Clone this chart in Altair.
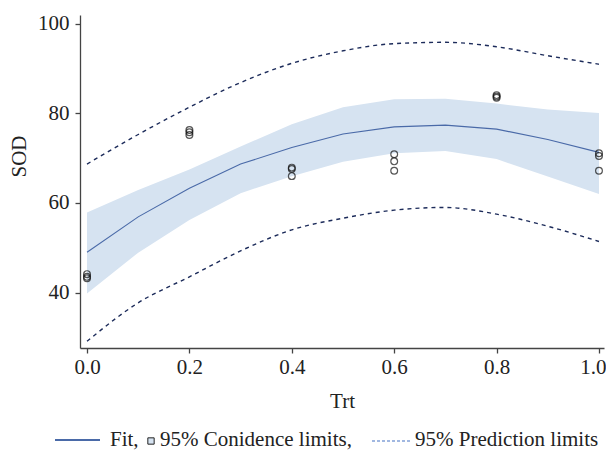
import altair as alt
import pandas as pd

# Observed data (Trt, SOD)
obs_trt = [0.0, 0.0, 0.0, 0.2, 0.2, 0.2, 0.4, 0.4, 0.4,
           0.6, 0.6, 0.6, 0.8, 0.8, 0.8, 1.0, 1.0, 1.0]
obs_sod = [44.1, 43.5, 43.2, 76.3, 75.8, 75.2, 67.9, 67.6, 66.0,
           70.9, 69.3, 67.2, 84.1, 83.8, 83.5, 71.1, 70.5, 67.2]

# Fitted curve and limits
grid_trt = [0.0, 0.1, 0.2, 0.3, 0.4, 0.5, 0.6, 0.7, 0.8, 0.9, 1.0]
fit_sod = [49.0, 56.9, 63.3, 68.7, 72.4, 75.4, 77.0, 77.4, 76.5, 74.2, 71.3]
ci_low = [39.8, 48.9, 56.2, 62.2, 66.0, 69.2, 71.1, 71.6, 69.8, 65.9, 62.0]
ci_high = [57.9, 62.9, 67.5, 72.6, 77.6, 81.4, 83.2, 83.3, 82.2, 80.9, 80.1]
pi_low = [29.1, 37.7, 43.5, 49.3, 54.0, 56.6, 58.4, 59.0, 57.5, 54.8, 51.4]
pi_high = [68.7, 75.3, 81.4, 86.9, 91.2, 94.0, 95.6, 95.9, 94.9, 92.9, 91.0]

legend_labels = ["Fit,", "95% Conidence limits,", "95% Prediction limits"]

FONT = "Liberation Serif"
W, H = 524, 333

obs = pd.DataFrame({"Trt": obs_trt, "SOD": obs_sod})
curve = pd.DataFrame({"Trt": grid_trt, "fit": fit_sod, "lo": ci_low, "hi": ci_high,
                      "plo": pi_low, "phi": pi_high})

xs = alt.Scale(domain=[-0.0137, 1.0098], nice=False, zero=False)
ys = alt.Scale(domain=[27.6, 102.0], nice=False, zero=False)

xenc = alt.X("Trt:Q", scale=xs,
             axis=alt.Axis(title="Trt", values=[0, 0.2, 0.4, 0.6, 0.8, 1.0], format=".1f",
                           grid=False, tickSize=5, labelPadding=3, titleY=59,
                           titleBaseline="alphabetic",
                           labelOffset=alt.condition("datum.value == 1", alt.value(-6), alt.value(0))))

band = alt.Chart(curve).mark_area(color="#d6e3f1", opacity=1).encode(
    x=xenc,
    y=alt.Y("lo:Q", scale=ys,
            axis=alt.Axis(title="SOD", values=[40, 60, 80, 100], grid=False, tickSize=5,
                          labelPadding=6, titleX=-55, titleY=141,
                          titleBaseline="alphabetic")),
    y2="hi:Q",
)

fit = alt.Chart(curve).mark_line(color="#4a6aa8", strokeWidth=1.1).encode(
    x="Trt:Q", y="fit:Q")

pred_hi = alt.Chart(curve).mark_line(color="#1c2b5a", strokeWidth=1.4, strokeDash=[4, 4],
                                     interpolate="monotone").encode(x="Trt:Q", y="phi:Q")
pred_lo = alt.Chart(curve).mark_line(color="#1c2b5a", strokeWidth=1.4, strokeDash=[4, 4],
                                     interpolate="monotone").encode(x="Trt:Q", y="plo:Q")

pts = alt.Chart(obs).mark_point(shape="circle", filled=False, color="#111", size=46,
                                strokeWidth=1.2).encode(x="Trt:Q", y="SOD:Q")

# Legend (drawn below the plot)
LY = 431
leg_df = pd.DataFrame({"label": legend_labels})
leg_fit_line = alt.Chart(leg_df.iloc[[0]]).mark_rule(color="#4a6aa8", strokeWidth=2).encode(
    x=alt.value(-25), x2=alt.value(20), y=alt.value(LY - 6))
leg_sq = alt.Chart(leg_df.iloc[[1]]).mark_point(shape="square", filled=True, fill="#d6e3f1",
                                               stroke="#222", strokeWidth=1, size=40, opacity=1).encode(
    x=alt.value(71), y=alt.value(LY - 5))
leg_dash = alt.Chart(leg_df.iloc[[2]]).mark_rule(color="#4472c4", strokeWidth=1.2,
                                                strokeDash=[3, 2]).encode(
    x=alt.value(292), x2=alt.value(332), y=alt.value(LY - 5))
text_kw = dict(align="left", baseline="alphabetic", font=FONT, fontSize=21, color="#222")
leg_t1 = alt.Chart(leg_df.iloc[[0]]).mark_text(**text_kw).encode(
    x=alt.value(30), y=alt.value(LY), text="label:N")
leg_t2 = alt.Chart(leg_df.iloc[[1]]).mark_text(**text_kw).encode(
    x=alt.value(80), y=alt.value(LY), text="label:N")
leg_t3 = alt.Chart(leg_df.iloc[[2]]).mark_text(**text_kw).encode(
    x=alt.value(335), y=alt.value(LY), text="label:N")

chart = alt.layer(band, fit, pred_hi, pred_lo, pts,
                  leg_fit_line, leg_sq, leg_dash, leg_t1, leg_t2, leg_t3).properties(
    width=W, height=H,
    autosize=alt.AutoSizeParams(type="none"),
    padding={"left": 72, "top": 7, "right": 2, "bottom": 103},
).configure_view(stroke=None).configure_axis(
    labelFont=FONT, titleFont=FONT, labelFontSize=21, titleFontSize=21,
    labelColor="#222", titleColor="#222", titleFontWeight="normal",
    domainColor="#444", tickColor="#444", domainWidth=1.3, tickWidth=1.3,
)

chart.save("out.html", embed_options={"renderer": "svg", "actions": False})
